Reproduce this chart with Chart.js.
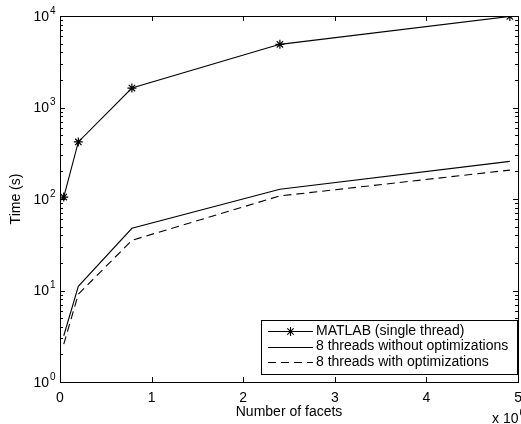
<!DOCTYPE html>
<html>
<head>
<meta charset="utf-8">
<script src="https://cdn.jsdelivr.net/npm/chart.js@4/dist/chart.umd.min.js"></script>
<style>
  html, body { margin: 0; padding: 0; background: #fff; overflow: hidden; }
  #wrap { position: relative; width: 530px; height: 424px; }
</style>
</head>
<body>
<div id="wrap"><canvas id="c"></canvas></div>
<script>
// ---- data (x in millions of facets, y in seconds) ----
const facets = [0.041, 0.2, 0.785, 2.4, 4.91];
const matlabSingle = [105, 420, 1630, 4900, 9900];
const threads8NoOpt = [3.2, 11.1, 47.8, 128, 258];
const threads8Opt = [2.6, 9.1, 35.4, 108, 207];
const seriesLabels = ['MATLAB (single thread)', '8 threads without optimizations', '8 threads with optimizations'];
const xTicks = [0, 1, 2, 3, 4, 5];
const yMajor = [1, 10, 100, 1000, 10000];
const yTickBase = '10';
const yTickExponents = ['0', '1', '2', '3', '4'];
const xAxisTitle = 'Number of facets';
const yAxisTitle = 'Time (s)';
const xExponentBase = 'x 10';
const xExponent = '6';

const FONT = "'Liberation Sans', Arial, Helvetica, sans-serif";

function pts(ys) { return facets.map((x, i) => ({x: x, y: ys[i]})); }

const boxTicks = {
  id: 'boxTicks',
  afterDraw(chart) {
    const {ctx, chartArea: a, scales} = chart;
    const xs = scales.x, ys = scales.y;
    ctx.save();
    ctx.strokeStyle = '#000';
    ctx.lineWidth = 1;
    // box
    ctx.strokeRect(Math.round(a.left) + 0.5, Math.round(a.top) + 0.5, Math.round(a.right - a.left), Math.round(a.bottom - a.top));
    ctx.beginPath();
    xs.ticks.forEach(t => {
      const px = Math.round(xs.getPixelForValue(t.value)) + 0.5;
      ctx.moveTo(px, a.bottom); ctx.lineTo(px, a.bottom - 5);
      ctx.moveTo(px, a.top); ctx.lineTo(px, a.top + 5);
    });
    ys.ticks.forEach(t => {
      const py = Math.round(ys.getPixelForValue(t.value)) + 0.5;
      const major = yMajor.includes(t.value);
      const len = major ? 5 : 3;
      ctx.moveTo(a.left, py); ctx.lineTo(a.left + len, py);
      ctx.moveTo(a.right, py); ctx.lineTo(a.right - len, py);
    });
    ctx.stroke();

    // y tick labels with superscript exponents
    ctx.fillStyle = '#000';
    yMajor.forEach((v, i) => {
      const py = ys.getPixelForValue(v);
      ctx.font = '14px ' + FONT;
      ctx.textAlign = 'right';
      ctx.textBaseline = 'middle';
      ctx.fillText(yTickBase, 49, py + 1);
      ctx.font = '10px ' + FONT;
      ctx.textAlign = 'left';
      ctx.fillText(yTickExponents[i], 50, py - 5);
    });

    // exponent label for x axis
    ctx.font = '14px ' + FONT;
    ctx.textAlign = 'left';
    ctx.textBaseline = 'alphabetic';
    ctx.fillText(xExponentBase, 492, 423);
    const w = ctx.measureText(xExponentBase).width;
    ctx.font = '10px ' + FONT;
    ctx.fillText(xExponent, 492 + w + 1, 416);

    // legend
    const L = 261, T = 320, R = 517, B = 374;
    ctx.fillStyle = '#fff';
    ctx.fillRect(L, T, R - L, B - T);
    ctx.strokeStyle = '#000';
    ctx.lineWidth = 1;
    ctx.strokeRect(L + 0.5, T + 0.5, R - L, B - T);
    const rows = [331, 346.5, 362];
    ctx.font = '14px ' + FONT;
    chart.data.datasets.forEach((ds, i) => {
      const y = Math.round(rows[i]) + 0.5;
      ctx.beginPath();
      ctx.setLineDash(ds.borderDash || []);
      ctx.strokeStyle = ds.borderColor;
      ctx.lineWidth = ds.borderWidth;
      ctx.moveTo(268, y); ctx.lineTo(313, y);
      ctx.stroke();
      ctx.setLineDash([]);
      if (ds.pointRadius > 0) {
        Chart.helpers.drawPoint(ctx, {pointStyle: ds.pointStyle, radius: ds.pointRadius, borderWidth: 1.2}, 290.5, y);
      }
      ctx.fillStyle = '#000';
      ctx.textAlign = 'left';
      ctx.textBaseline = 'middle';
      ctx.fillText(ds.label, 316, rows[i]);
    });
    ctx.restore();
  }
};

new Chart(document.getElementById('c'), {
  type: 'line',
  data: {
    datasets: [
      { label: seriesLabels[0], data: pts(matlabSingle), borderColor: '#000', backgroundColor: '#000',
        borderWidth: 1.1, pointStyle: 'star', pointRadius: 4.5, pointBorderWidth: 1.2, pointBorderColor: '#000' },
      { label: seriesLabels[1], data: pts(threads8NoOpt), borderColor: '#000', borderWidth: 1.1, pointRadius: 0 },
      { label: seriesLabels[2], data: pts(threads8Opt), borderColor: '#000', borderWidth: 1.1, pointRadius: 0, borderDash: [8, 5] }
    ]
  },
  options: {
    responsive: true,
    maintainAspectRatio: false,
    animation: false,
    layout: { padding: { top: 16, right: 7, bottom: 0, left: 0 } },
    plugins: { legend: { display: false }, tooltip: { enabled: false } },
    scales: {
      x: {
        type: 'linear', min: 0, max: 5,
        afterBuildTicks: s => { s.ticks = xTicks.map(v => ({value: v})); },
        afterFit: s => { s.height = 42; },
        grid: { display: false, drawTicks: false, tickLength: 0 },
        border: { display: false },
        ticks: { color: '#000', font: { family: FONT, size: 14 }, padding: 8, maxRotation: 0,
                 callback: v => String(v) },
        title: { display: true, text: xAxisTitle, color: '#000', font: { family: FONT, size: 14 },
                 padding: { top: 0, bottom: 3 } }
      },
      y: {
        type: 'logarithmic', min: 1, max: 10000,
        afterBuildTicks: s => {
          const t = [];
          for (let e = 0; e < 4; e++) for (let m = 1; m < 10; m++) t.push({value: m * Math.pow(10, e)});
          t.push({value: 10000});
          s.ticks = t;
        },
        afterFit: s => { s.width = 60; },
        grid: { display: false, drawTicks: false, tickLength: 0 },
        border: { display: false },
        ticks: { display: false },
        title: { display: true, text: yAxisTitle, color: '#000', font: { family: FONT, size: 14 },
                 padding: { top: 8, bottom: 0 } }
      }
    }
  },
  plugins: [boxTicks]
});
</script>
</body>
</html>
